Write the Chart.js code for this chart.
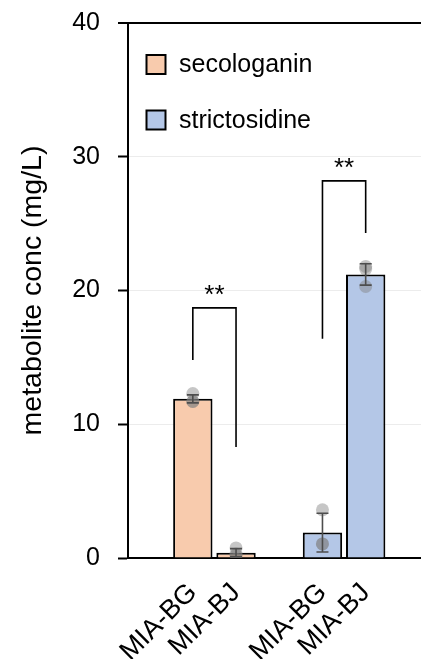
<!DOCTYPE html>
<html><head><meta charset="utf-8">
<script src="https://cdn.jsdelivr.net/npm/chart.js@4.4.1/dist/chart.umd.min.js"></script>
<style>
html,body{margin:0;padding:0;overflow:hidden;background:#fff;}
#wrap{width:421px;height:659px;overflow:hidden;position:relative;}
canvas{display:block;}
</style></head><body>
<div id="wrap"><canvas id="c" width="437" height="659" style="width:437px;height:659px"></canvas></div>
<script>
// ---- data ----
const groups = ['MIA-BG', 'MIA-BJ'];
const seriesNames = ['secologanin', 'strictosidine'];
const seriesColors = ['#F8CBAD', '#B4C7E7'];
const secologaninMean = [11.9, 0.4];
const secologaninSD = [0.3, 0.3];
const secologaninReps = [[12.3, 11.7, 11.7], [0.75, 0.3, 0.2]];
const strictosidineMean = [1.9, 21.2];
const strictosidineSD = [1.45, 0.8];
const strictosidineReps = [[3.6, 1.05, 1.05], [21.8, 21.6, 20.3]];
const yTicks = [0, 10, 20, 30, 40];
const significance = ['**', '**'];
const bracketTop = [18.7, 28.2];
const bracketLeftEnd = [14.8, 16.4];
const bracketRightEnd = [8.3, 24.3];

// ---- build slot layout: blank, BG, BJ, blank, BG, BJ, blank ----
const labels = [''];
seriesNames.forEach(() => { labels.push(...groups, ''); });
function place(values, s) {
  const arr = labels.map(() => null);
  values.forEach((v, i) => { arr[1 + 3 * s + i] = v; });
  return arr;
}
const means = [secologaninMean, strictosidineMean];
const sds = [secologaninSD, strictosidineSD];
const reps = [secologaninReps, strictosidineReps];

const datasets = [];
seriesNames.forEach((name, s) => {
  datasets.push({
    type: 'bar', label: name, data: place(means[s], s),
    backgroundColor: seriesColors[s], borderColor: '#000', borderWidth: 2,
    grouped: false, barPercentage: 0.911, categoryPercentage: 1, order: 3
  });
});
for (let r = 0; r < 3; r++) {
  const arr = labels.map(() => null);
  seriesNames.forEach((_, s) => {
    reps[s].forEach((g, i) => { arr[1 + 3 * s + i] = g[r]; });
  });
  datasets.push({
    type: 'line', label: 'rep' + (r + 1), data: arr, showLine: false,
    pointRadius: 6.5, pointHoverRadius: 6.5,
    pointBackgroundColor: 'rgba(128,128,128,0.45)', pointBorderWidth: 0,
    order: 1
  });
}

const overlay = {
  id: 'overlay',
  afterDatasetsDraw(chart) {
    const ctx = chart.ctx, x = chart.scales.x, y = chart.scales.y;
    ctx.save();
    // error bars
    ctx.strokeStyle = '#4d4d4d'; ctx.lineWidth = 1.6;
    seriesNames.forEach((_, s) => {
      const m = place(means[s], s), d = place(sds[s], s);
      m.forEach((v, i) => {
        if (v === null) return;
        const px = x.getPixelForValue(i);
        const y1 = y.getPixelForValue(v + d[i]);
        const y0 = y.getPixelForValue(Math.max(0, v - d[i]));
        ctx.beginPath();
        ctx.moveTo(px, y0); ctx.lineTo(px, y1);
        ctx.moveTo(px - 6, y0); ctx.lineTo(px + 6, y0);
        ctx.moveTo(px - 6, y1); ctx.lineTo(px + 6, y1);
        ctx.stroke();
      });
    });
    // significance brackets
    ctx.strokeStyle = '#000'; ctx.lineWidth = 1.6; ctx.fillStyle = '#000';
    ctx.font = '26px "Liberation Sans", Arial, sans-serif';
    ctx.textAlign = 'center'; ctx.textBaseline = 'alphabetic';
    significance.forEach((txt, b) => {
      const xl = x.getPixelForValue(1 + 3 * b), xr = x.getPixelForValue(2 + 3 * b);
      const yt = y.getPixelForValue(bracketTop[b]);
      ctx.beginPath();
      ctx.moveTo(xl, y.getPixelForValue(bracketLeftEnd[b]));
      ctx.lineTo(xl, yt); ctx.lineTo(xr, yt);
      ctx.lineTo(xr, y.getPixelForValue(bracketRightEnd[b]));
      ctx.stroke();
      ctx.fillText(txt, (xl + xr) / 2, yt - 5);
    });
    // legend
    const ca = chart.chartArea;
    ctx.font = '25px "Liberation Sans", Arial, sans-serif';
    ctx.textAlign = 'left'; ctx.textBaseline = 'middle';
    seriesNames.forEach((name, s) => {
      const bx = ca.left + 18.5, by = ca.top + 32 + 55.5 * s;
      ctx.fillStyle = seriesColors[s];
      ctx.fillRect(bx, by, 19, 19);
      ctx.lineWidth = 2; ctx.strokeStyle = '#000';
      ctx.strokeRect(bx, by, 19, 19);
      ctx.fillStyle = '#000';
      ctx.fillText(name, ca.left + 51, by + 10.5);
    });
    ctx.restore();
  }
};

new Chart(document.getElementById('c'), {
  data: { labels, datasets },
  options: {
    responsive: false, animation: false, devicePixelRatio: 1,
    layout: { padding: { top: 23, left: 0, right: 0, bottom: 0 } },
    plugins: { legend: { display: false }, tooltip: { enabled: false } },
    scales: {
      x: {
        type: 'category',
        grid: { display: false, drawTicks: false },
        border: { display: true, color: '#000', width: 2 },
        ticks: {
          autoSkip: false, maxRotation: 45, minRotation: 45, padding: 19,
          color: '#000', font: { family: '"Liberation Sans", Arial, sans-serif', size: 27 }
        },
        afterFit(s) { s.height = 101; s.paddingLeft = 0; s.paddingRight = 0; }
      },
      y: {
        min: 0, max: 40,
        afterBuildTicks(s) { s.ticks = yTicks.map(v => ({ value: v })); },
        grid: {
          color: c => (c.tick && c.tick.value === 40) ? '#000' : '#ececec',
          lineWidth: c => (c.tick && c.tick.value === 40) ? 2 : 1,
          tickColor: '#000', tickLength: 10, tickWidth: 2
        },
        border: { display: true, color: '#000', width: 2 },
        ticks: {
          padding: 18, color: '#000',
          font: { family: '"Liberation Sans", Arial, sans-serif', size: 25 }
        },
        title: {
          display: true, text: 'metabolite conc (mg/L)', color: '#000',
          font: { family: '"Liberation Sans", Arial, sans-serif', size: 28.5 },
          padding: { top: 16, bottom: 0 }
        },
        afterFit(s) { s.width = 128; s.paddingTop = 0; s.paddingBottom = 0; }
      }
    }
  },
  plugins: [overlay]
});
</script>
</body></html>
